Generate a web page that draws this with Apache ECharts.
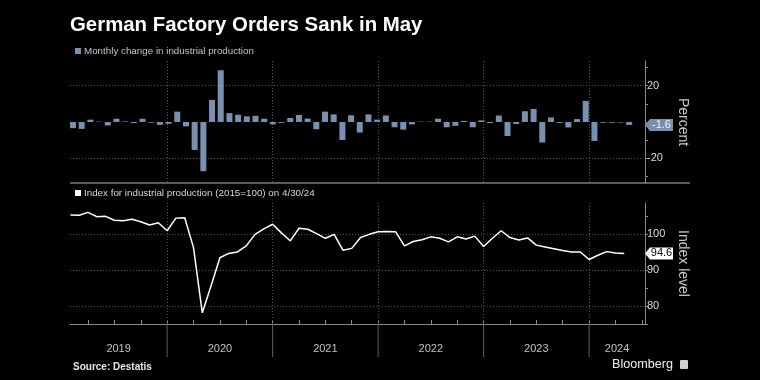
<!DOCTYPE html>
<html><head><meta charset="utf-8">
<script src="https://cdn.jsdelivr.net/npm/echarts@6/dist/echarts.min.js"></script>
<style>html,body{margin:0;padding:0;background:#000}#c{width:760px;height:380px}</style>
</head><body><div id="c"></div>
<script>
// ---- text ----
const titleText = 'German Factory Orders Sank in May';
const barName = 'Monthly change in industrial production';
const lineName = 'Index for industrial production (2015=100) on 4/30/24';
const sourceText = 'Source: Destatis';
const brandText = 'Bloomberg';
const pctName = 'Percent';
const idxName = 'Index level';

// ---- x axis (months since 1 Jan 2019) ----
const yearLabels = ['2019', '2020', '2021', '2022', '2023', '2024'];
const yearBounds = [12, 24, 36, 48, 60];
const yearLabelPos = [6.48, 18, 30, 42, 54, 63.18];
const quarterTicks = [3, 6, 9, 12, 15, 18, 21, 24, 27, 30, 33, 36, 39, 42, 45, 48, 51, 54, 57, 60, 63, 66];

// ---- y ticks ----
const pctTicks = [-30, -20, -10, 0, 10, 20, 30];
const pctLabels = [-20, 20];
const idxTicks = [75, 80, 85, 90, 95, 100, 105];
const idxLabels = [80, 90, 100];

// ---- data: Jan 2019 .. May 2024 (monthly change, %) ----
const barValues = [
  -3.4, -3.8, 1.3, 0.2, -1.9, 1.8, 0.3, -0.6, 1.8, -0.4, -1.6, -1.0,
  5.7, -2.4, -15.4, -27.1, 12.2, 28.5, 4.9, 4.0, 3.1, 3.4, 1.8, -1.3,
  -0.5, 2.2, 3.9, 1.9, -4.0, 5.7, 4.2, -9.9, 3.7, -5.8, 4.2, 1.3,
  3.6, -2.9, -4.2, -1.3, 0.2, 0.2, 1.8, -2.9, -2.1, 0.6, -2.9, 0.9,
  -0.6, 3.6, -7.7, -1.1, 5.9, 7.2, -11.3, 2.5, -0.5, -3.0, 1.6, 11.6,
  -10.4, -0.4, -0.4, -0.3, -1.6
];
// ---- data: Jan 2019 .. Apr 2024 (index, 2015=100) ----
const lineValues = [
  105.3, 105.2, 106.0, 104.8, 104.9, 103.8, 103.7, 104.1, 103.4, 102.5, 103.1, 100.9,
  104.4, 104.5, 96.2, 78.1, 85.6, 93.4, 94.6, 95.0, 96.7, 99.9, 101.4, 102.7,
  100.3, 98.1, 101.6, 101.3, 100.1, 98.8, 99.9, 95.5, 96.0, 99.0, 99.9, 100.6,
  100.7, 100.6, 96.7, 97.9, 98.4, 99.2, 98.8, 97.8, 99.2, 98.6, 99.4, 96.5,
  98.8, 100.9, 99.0, 98.3, 98.9, 96.9, 96.4, 95.9, 95.4, 95.0, 95.0, 92.9,
  94.1, 95.1, 94.7, 94.6
];

const FONT = '"Liberation Sans", Arial, sans-serif';
const X_MIN = 0.95, X_MAX = 66.36;
const BAR_X_MIN = -0.345, BAR_X_MAX = 65.82;
const PCT_MIN = -33.6, PCT_MAX = 33.6;
const IDX_MIN = 75, IDX_MAX = 108.6;
const BAR_COLOR = '#7890b2';
const AXIS_COLOR = '#8a8a8a';
const GRID_LINE = { color: '#575757', type: [1, 2], width: 1 };
const TAG_PATH = 'path://M0,6L5,0L28,0L28,12L5,12Z';

const chart = echarts.init(document.getElementById('c'));
const lastBar = barValues[barValues.length - 1];
const lastLine = lineValues[lineValues.length - 1];

function gridMarkLines(list) {
  return { silent: true, symbol: 'none', z: 1, label: { show: false }, lineStyle: GRID_LINE, emphasis: { disabled: true }, data: list };
}

chart.setOption({
  backgroundColor: '#000',
  animation: false,
  textStyle: { fontFamily: FONT },
  title: {
    text: titleText, left: 70, top: 15, padding: 0,
    textStyle: { color: '#fff', fontSize: 20.4, fontWeight: 'bold', fontFamily: FONT }
  },
  legend: [
    { data: [barName], left: 75, top: 46, padding: 0, icon: 'rect', itemWidth: 6, itemHeight: 6, itemGap: 4,
      selectedMode: false, textStyle: { color: '#c4c4c4', fontSize: 9.8, fontFamily: FONT, padding: [0, 0, 0, -2] } },
    { data: [lineName], left: 75, top: 188, padding: 0, icon: 'rect', itemWidth: 6, itemHeight: 6, itemGap: 4,
      selectedMode: false, textStyle: { color: '#d8d8d8', fontSize: 9.8, fontFamily: FONT, padding: [0, 0, 0, -2] } }
  ],
  grid: [
    { left: 70, right: 115, top: 61, height: 122 },
    { left: 70, right: 115, top: 203, height: 121 }
  ],
  xAxis: [
    { gridIndex: 0, type: 'value', position: 'bottom', min: X_MIN, max: X_MAX,
      axisLine: { show: false, onZero: false }, axisTick: { show: false, customValues: yearBounds },
      axisLabel: { show: false }, splitLine: { show: true, lineStyle: GRID_LINE } },
    { gridIndex: 0, type: 'value', min: BAR_X_MIN, max: BAR_X_MAX, show: false,
      axisLine: { show: false, onZero: false }, splitLine: { show: false } },
    { gridIndex: 1, type: 'value', position: 'bottom', min: X_MIN, max: X_MAX,
      axisLine: { show: true, onZero: false, lineStyle: { color: AXIS_COLOR, width: 1 } },
      axisTick: { show: true, inside: true, length: 4, customValues: quarterTicks, lineStyle: { color: AXIS_COLOR } },
      axisLabel: { show: true, customValues: yearLabelPos, margin: 19, color: '#c2c2c2', fontSize: 11, fontFamily: FONT,
        formatter: v => yearLabels[Math.floor(v / 12)] },
      splitLine: { show: false } }
  ],
  yAxis: [
    { gridIndex: 0, type: 'value', position: 'right', min: PCT_MIN, max: PCT_MAX,
      axisLine: { show: true, onZero: false, lineStyle: { color: AXIS_COLOR } },
      axisTick: { show: true, length: 3, customValues: pctTicks, lineStyle: { color: AXIS_COLOR } },
      axisLabel: { show: true, customValues: pctLabels, margin: 2, color: '#dcdcdc', fontSize: 11, fontFamily: FONT },
      splitLine: { show: false },
      name: pctName, nameLocation: 'middle', nameRotate: -90, nameGap: 31,
      nameTextStyle: { color: '#c8c8c8', fontSize: 14, fontFamily: FONT } },
    { gridIndex: 1, type: 'value', position: 'right', min: IDX_MIN, max: IDX_MAX,
      axisLine: { show: true, onZero: false, lineStyle: { color: AXIS_COLOR } },
      axisTick: { show: true, length: 3, customValues: idxTicks, lineStyle: { color: AXIS_COLOR } },
      axisLabel: { show: true, customValues: idxLabels, margin: 2, color: '#dcdcdc', fontSize: 11, fontFamily: FONT },
      splitLine: { show: false },
      name: idxName, nameLocation: 'middle', nameRotate: -90, nameGap: 31,
      nameTextStyle: { color: '#c8c8c8', fontSize: 14, fontFamily: FONT } }
  ],
  series: [
    { name: barName, type: 'bar', xAxisIndex: 1, yAxisIndex: 0, barWidth: 6, z: 2,
      itemStyle: { color: BAR_COLOR },
      data: barValues.map((v, k) => [k, v]),
      markLine: gridMarkLines(pctLabels.map(v => ({ yAxis: v }))),
      markPoint: {
        symbol: TAG_PATH, symbolSize: [28, 12], symbolOffset: [14, 0],
        itemStyle: { color: BAR_COLOR },
        label: { show: true, position: 'inside', offset: [2.5, 0], color: '#f4f4f4', fontSize: 11, fontFamily: FONT, formatter: '{c}' },
        data: [{ coord: [BAR_X_MAX, lastBar], value: lastBar }]
      } },
    { name: lineName, type: 'line', xAxisIndex: 2, yAxisIndex: 1, symbol: 'none', z: 3,
      itemStyle: { color: '#ffffff' }, lineStyle: { color: '#ffffff', width: 1.5 },
      data: lineValues.map((v, k) => [k + 1, v]),
      markLine: gridMarkLines(idxLabels.map(v => ({ yAxis: v })).concat(yearBounds.map(v => ({ xAxis: v })))),
      markPoint: {
        symbol: TAG_PATH, symbolSize: [28, 12], symbolOffset: [14, 0],
        itemStyle: { color: '#ffffff' },
        label: { show: true, position: 'inside', offset: [2.5, 0], color: '#000', fontSize: 11, fontFamily: FONT, formatter: '{c}' },
        data: [{ coord: [X_MAX, lastLine], value: lastLine }]
      } },
    { type: 'custom', xAxisIndex: 2, yAxisIndex: 1, silent: true, clip: false,
      data: yearBounds.map(v => [v, IDX_MIN]),
      renderItem: (params, api) => {
        const p = api.coord([api.value(0), IDX_MIN]);
        return { type: 'line', shape: { x1: p[0], y1: p[1], x2: p[0], y2: p[1] + 33 },
          style: { stroke: '#5e5e5e', lineWidth: 1 } };
      } }
  ],
  graphic: [
    { type: 'rect', shape: { x: 70, y: 182, width: 620, height: 2 }, style: { fill: '#5c5c5c' }, silent: true },
    { type: 'text', left: 73, top: 362, style: { text: sourceText, fill: '#e6e6e6', font: 'bold 10px ' + FONT } },
    { type: 'text', left: 612, top: 358, style: { text: brandText, fill: '#f0f0f0', font: '12.6px ' + FONT } },
    { type: 'rect', shape: { x: 680, y: 360, width: 8, height: 9, r: 1 }, style: { fill: '#cfcfcf' }, silent: true }
  ]
});
</script>
</body></html>
